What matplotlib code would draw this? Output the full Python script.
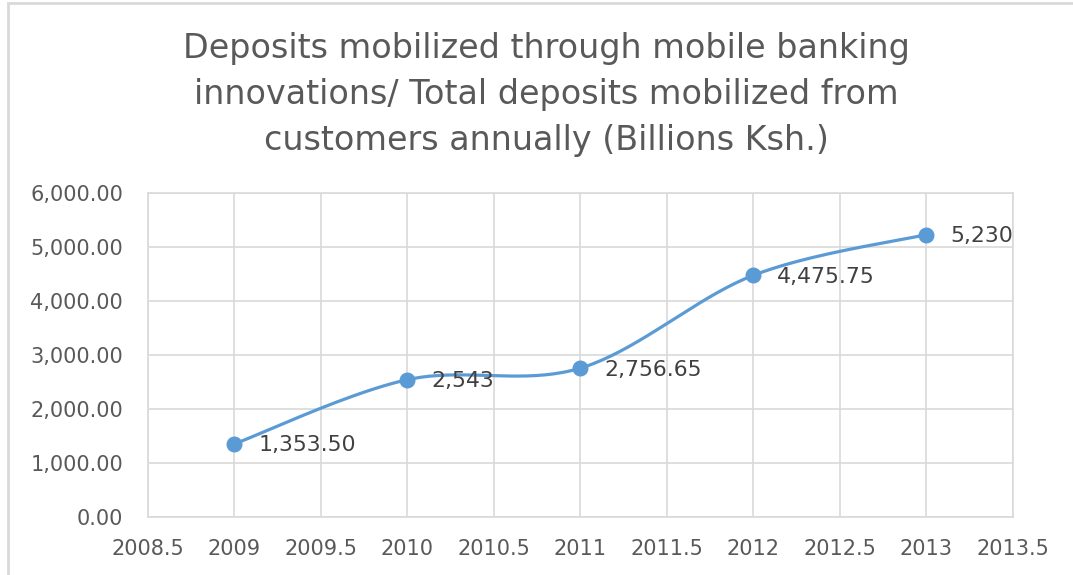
import numpy as np
import matplotlib
matplotlib.use("Agg")
import matplotlib.pyplot as plt
from matplotlib.ticker import FuncFormatter, MultipleLocator
from matplotlib.patches import Rectangle

years = [2009, 2010, 2011, 2012, 2013]
deposits = [1353.50, 2543, 2756.65, 4475.75, 5230]
labels = ["1,353.50", "2,543", "2,756.65", "4,475.75", "5,230"]
title = ("Deposits mobilized through mobile banking\n"
         "innovations/ Total deposits mobilized from\n"
         "customers annually (Billions Ksh.)")

BLUE = "#5B9BD5"
GRID = "#D9D9D9"
TXT = "#595959"

plt.rcParams['font.family'] = ['DejaVu Sans']


def smooth(xs, ys, n=40):
    # Excel-style smoothed line: cubic bezier, control pts from neighbours
    x = np.asarray(xs, float)
    y = np.asarray(ys, float)
    px = np.concatenate([[x[0]], x, [x[-1]]])
    py = np.concatenate([[y[0]], y, [y[-1]]])
    outx, outy = [], []
    t = np.linspace(0, 1, n)
    for i in range(1, len(px) - 2):
        p0 = np.array([px[i], py[i]])
        p3 = np.array([px[i + 1], py[i + 1]])
        c1 = p0 + (np.array([px[i + 1], py[i + 1]]) - np.array([px[i - 1], py[i - 1]])) / 6
        c2 = p3 - (np.array([px[i + 2], py[i + 2]]) - np.array([px[i], py[i]])) / 6
        b = ((1 - t) ** 3)[:, None] * p0 + (3 * (1 - t) ** 2 * t)[:, None] * c1 \
            + (3 * (1 - t) * t ** 2)[:, None] * c2 + (t ** 3)[:, None] * p3
        outx.extend(b[:, 0])
        outy.extend(b[:, 1])
    return outx, outy


fig = plt.figure(figsize=(10.73, 5.75), dpi=100)
ax = fig.add_axes([0.1379, 0.1009, 0.8061, 0.5635])

sx, sy = smooth(years, deposits)
ax.plot(sx, sy, color=BLUE, lw=2.3, zorder=3, solid_capstyle="round")
ax.plot(years, deposits, "o", color=BLUE, ms=10.5, zorder=4)

for x, y, lab in zip(years, deposits, labels):
    ax.annotate(lab, (x, y), xytext=(17, -1), textcoords="offset points",
                ha="left", va="center", fontsize=15.8, color="#404040", zorder=5)

ax.set_xlim(2008.5, 2013.5)
ax.set_ylim(0, 6000)
ax.xaxis.set_major_locator(MultipleLocator(0.5))
ax.yaxis.set_major_locator(MultipleLocator(1000))
ax.xaxis.set_major_formatter(FuncFormatter(lambda v, p: "{:g}".format(v)))
ax.yaxis.set_major_formatter(FuncFormatter(lambda v, p: "{:,.2f}".format(v)))
ax.grid(True, color=GRID, lw=1.2)
ax.set_axisbelow(True)
for s in ax.spines.values():
    s.set_color(GRID)
    s.set_linewidth(1.2)
ax.tick_params(axis="both", length=0, labelsize=15, labelcolor=TXT)
ax.tick_params(axis="x", pad=16)
ax.tick_params(axis="y", pad=18)

fig.text(0.509, 0.8365, title, ha="center", va="center", fontsize=24,
         color=TXT, linespacing=1.5)

# outer chart border (cut off at right/bottom in the original)
fig.patches.append(Rectangle((8 / 1073, -0.1), 1.2, 1.1 - 3 / 575,
                             transform=fig.transFigure, fill=False,
                             edgecolor=GRID, lw=2))

fig.savefig("out.png", dpi=100)
